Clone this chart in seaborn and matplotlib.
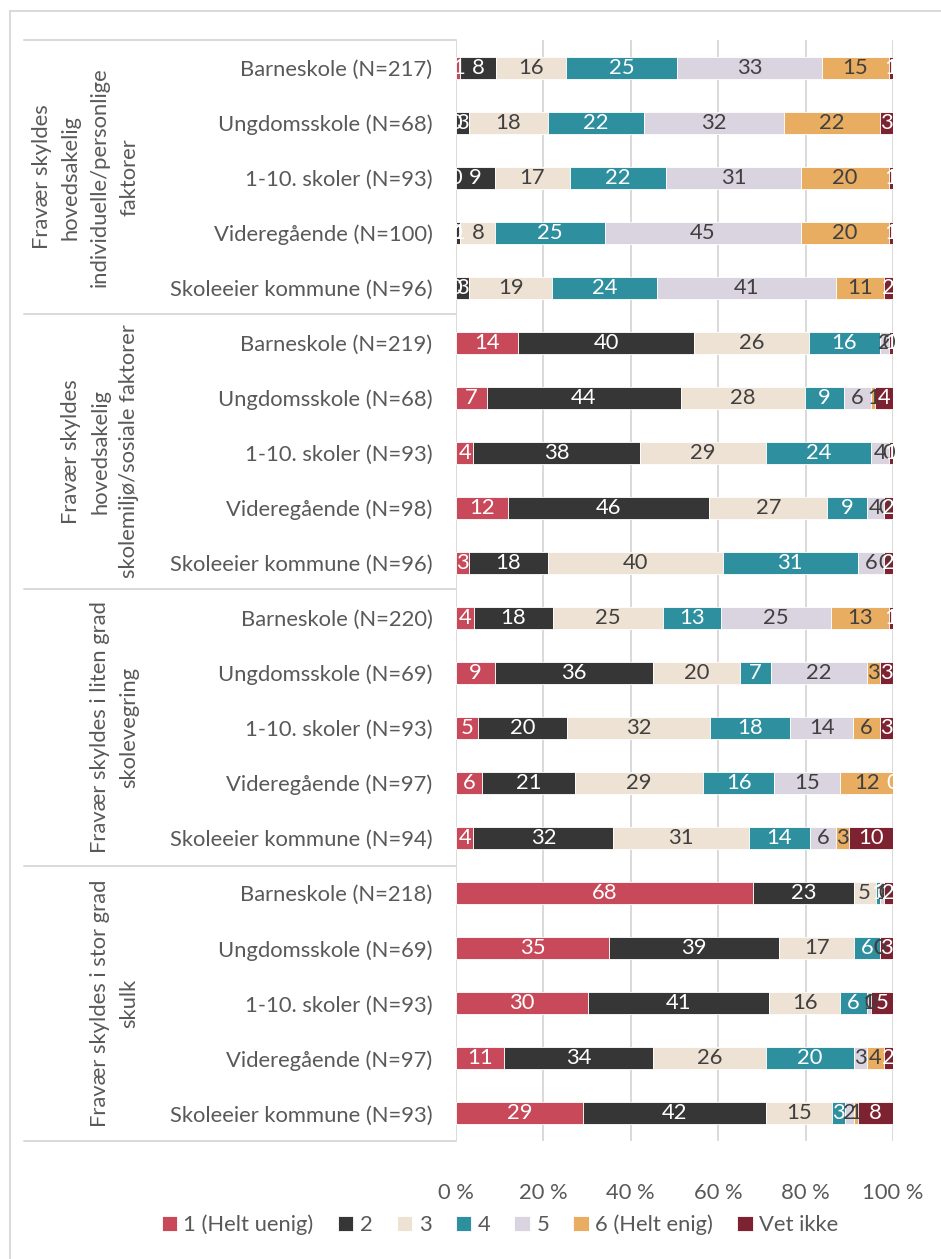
import numpy as np
import pandas as pd
import matplotlib
matplotlib.use("Agg")
import matplotlib.pyplot as plt
from matplotlib.lines import Line2D
from matplotlib.patches import Rectangle
import seaborn as sns

# ---------------- data ----------------
categories = [
    "Barneskole (N=217)", "Ungdomsskole (N=68)", "1-10. skoler (N=93)", "Videregående (N=100)", "Skoleeier kommune (N=96)",
    "Barneskole (N=219)", "Ungdomsskole (N=68)", "1-10. skoler (N=93)", "Videregående (N=98)", "Skoleeier kommune (N=96)",
    "Barneskole (N=220)", "Ungdomsskole (N=69)", "1-10. skoler (N=93)", "Videregående (N=97)", "Skoleeier kommune (N=94)",
    "Barneskole (N=218)", "Ungdomsskole (N=69)", "1-10. skoler (N=93)", "Videregående (N=97)", "Skoleeier kommune (N=93)",
]
group_lines = [
    ["Fravær skyldes", "hovedsakelig", "individuelle/personlige", "faktorer"],
    ["Fravær skyldes", "hovedsakelig", "skolemiljø/sosiale faktorer"],
    ["Fravær skyldes i liten grad", "skolevegring"],
    ["Fravær skyldes i stor grad", "skulk"],
]
series = ["1 (Helt uenig)", "2", "3", "4", "5", "6 (Helt enig)", "Vet ikke"]

s1 = [1, 0, 0, 0, 0,   14, 7, 4, 12, 3,   4, 9, 5, 6, 4,    68, 35, 30, 11, 29]
s2 = [8, 3, 9, 1, 3,   40, 44, 38, 46, 18, 18, 36, 20, 21, 32, 23, 39, 41, 34, 42]
s3 = [16, 18, 17, 8, 19, 26, 28, 29, 27, 40, 25, 20, 32, 29, 31, 5, 17, 16, 26, 15]
s4 = [25, 22, 22, 25, 24, 16, 9, 24, 9, 31,  13, 7, 18, 16, 14, 1, 6, 6, 20, 3]
s5 = [33, 32, 31, 45, 41, 2, 6, 4, 4, 6,     25, 22, 14, 15, 6, 1, 0, 1, 3, 2]
s6 = [15, 22, 20, 20, 11, 0, 1, 0, 0, 0,     13, 3, 6, 12, 3,  0, 0, 0, 4, 1]
s7 = [1, 3, 1, 1, 2,     1, 4, 1, 2, 2,      1, 3, 3, 0, 10,  2, 3, 5, 2, 8]
values = [s1, s2, s3, s4, s5, s6, s7]

colors = ["#C8495A", "#363636", "#EDE2D3", "#2E8F9F", "#DAD3E0", "#E9AD62", "#7D2230"]
label_colors = ["white", "white", "#404040", "white", "#404040", "#404040", "white"]
xticks = [0, 20, 40, 60, 80, 100]
xtick_labels = ["0 %", "20 %", "40 %", "60 %", "80 %", "100 %"]

# ---------------- figure ----------------
sns.set_theme(style="white")
plt.rcParams["font.family"] = ["Lato", "DejaVu Sans"]
FS = 15.8
TXT = "#595959"

W, H = 941, 1259
fig = plt.figure(figsize=(W / 100, H / 100), dpi=100)
ax_left, ax_right, ax_top, ax_bot = 456, 893, 40, 1141
ax = fig.add_axes([ax_left / W, 1 - ax_bot / H, (ax_right - ax_left) / W, (ax_bot - ax_top) / H])

# 100 % stacked: scale each row by its total
vals_arr = np.array(values, dtype=float)
row_tot = vals_arr.sum(axis=0)
pct = vals_arr / row_tot * 100

ids = [f"r{i}" for i in range(len(categories))]
left = np.zeros(len(ids))
for name, p, col in zip(series, pct, colors):
    df = pd.DataFrame({"row": ids, "val": p})
    sns.barplot(data=df, x="val", y="row", order=ids, orient="h", color=col,
                saturation=1, left=left.copy(), width=0.4, errorbar=None,
                edgecolor="white", linewidth=0.6, label=name, ax=ax)
    left += p

if ax.get_legend() is not None:
    ax.get_legend().remove()

for cont, vals, lc in zip(ax.containers, values, label_colors):
    ax.bar_label(cont, labels=[str(v) for v in vals], label_type="center",
                 color=lc, fontsize=FS)

ax.set_xlim(0, 100)
ax.set_ylim(len(ids) - 0.5, -0.5)
ax.set_xticks(xticks, labels=xtick_labels)
ax.set_yticks(range(len(ids)), labels=categories)
ax.set_xlabel("")
ax.set_ylabel("")
ax.grid(axis="x", color="#D9D9D9", linewidth=1.4)
ax.grid(axis="y", visible=False)
ax.set_axisbelow(True)
for sp in ax.spines.values():
    sp.set_visible(False)
ax.tick_params(axis="y", length=0, pad=17, labelsize=FS, labelcolor=TXT)
ax.tick_params(axis="x", length=0, pad=30, labelsize=FS, labelcolor=TXT)

# group separator lines
for yp in [40, 314, 589, 866, 1141]:
    fig.add_artist(Line2D([24 / W, ax_left / W], [1 - yp / H, 1 - yp / H],
                          color="#D9D9D9", linewidth=1.4))

# group labels
centers = [177, 451.5, 727.5, 1003.5]
for lines, cy in zip(group_lines, centers):
    n = len(lines)
    for k, t in enumerate(lines):
        xp = 129 - 29 * (n - 1 - k)
        fig.text(xp / W, 1 - cy / H, t, rotation=90, ha="center", va="center",
                 fontsize=FS, color=TXT)

# outer frame
fig.add_artist(Rectangle((10 / W, -0.1), 1.2, (1 - 11 / H) + 0.1, fill=False,
                         edgecolor="#D9D9D9", linewidth=1.4, transform=fig.transFigure))

handles, labels = ax.get_legend_handles_labels()
fig.legend(handles, labels, loc="center", bbox_to_anchor=(500 / W, 1 - 1225 / H),
           ncol=7, frameon=False, handlelength=0.7, handleheight=0.7,
           handletextpad=0.3, columnspacing=1.1, fontsize=FS, labelcolor=TXT)

fig.savefig("out.png", dpi=100, facecolor="white")
